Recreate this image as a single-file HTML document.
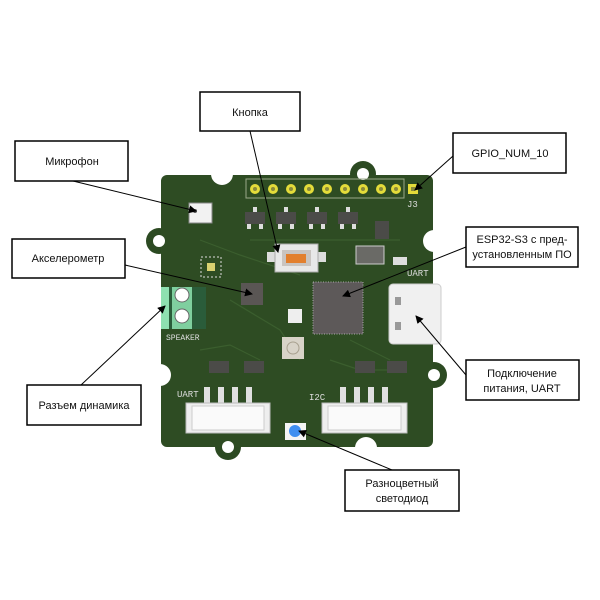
<!DOCTYPE html>
<html><head><meta charset="utf-8"><style>
html,body{margin:0;padding:0;background:#fff;}
svg{display:block}
.l{font-family:"Liberation Sans","DejaVu Sans",sans-serif;font-size:11px;fill:#111}
.s{font-family:"Liberation Mono",monospace;font-size:9px;fill:#ddd}
</style></head><body>
<svg width="600" height="600" viewBox="0 0 600 600" xmlns="http://www.w3.org/2000/svg">
<defs><marker id="a" markerWidth="8" markerHeight="8" refX="7" refY="4" orient="auto" markerUnits="userSpaceOnUse"><path d="M0,0 L8,4 L0,8 z" fill="#000"/></marker></defs>
<!-- bumps -->
<g fill="#2c4a22">
<circle cx="363" cy="174" r="13"/><circle cx="159" cy="241" r="13"/><circle cx="434" cy="375" r="13"/><circle cx="228" cy="447" r="13"/>
</g>
<rect x="161" y="175" width="272" height="272" rx="6" fill="#2e4c23"/>
<!-- holes -->
<g fill="#fff">
<circle cx="363" cy="174" r="6"/><circle cx="159" cy="241" r="6"/><circle cx="434" cy="375" r="6"/><circle cx="228" cy="447" r="6"/>
<circle cx="222" cy="174" r="11"/><circle cx="160" cy="375" r="11"/><circle cx="434" cy="241" r="11"/><circle cx="366" cy="448" r="11"/>
</g>
<!-- traces hint -->
<g stroke="#3b5e2e" stroke-width="1.2" fill="none">
<path d="M200 240 L240 255 L300 275 M230 300 L280 330 L300 360 M350 340 L390 360 M200 350 L230 345 L260 360 M330 360 L360 370 L400 370 M250 240 L400 240"/>
</g>
<!-- header -->
<rect x="246" y="179" width="158" height="19" fill="none" stroke="#9aa88a" stroke-width="1"/>
<g fill="#e4dc3a">
<circle cx="255" cy="189" r="5"/><circle cx="273" cy="189" r="5"/><circle cx="291" cy="189" r="5"/><circle cx="309" cy="189" r="5"/><circle cx="327" cy="189" r="5"/><circle cx="345" cy="189" r="5"/><circle cx="363" cy="189" r="5"/><circle cx="381" cy="189" r="5"/><circle cx="396" cy="189" r="5"/>
<rect x="408" y="184" width="10" height="10"/>
</g>
<g fill="#8a8a3a"><circle cx="255" cy="189" r="2"/><circle cx="273" cy="189" r="2"/><circle cx="291" cy="189" r="2"/><circle cx="309" cy="189" r="2"/><circle cx="327" cy="189" r="2"/><circle cx="345" cy="189" r="2"/><circle cx="363" cy="189" r="2"/><circle cx="381" cy="189" r="2"/><circle cx="396" cy="189" r="2"/><rect x="411" y="187" width="4" height="4"/></g>
<text x="407" y="207" class="s">J3</text>
<!-- mic -->
<rect x="189" y="203" width="23" height="20" fill="#f2f2f2" stroke="#888"/>
<circle cx="195" cy="211" r="2" fill="#555"/>
<!-- transistors -->
<g fill="#4b4b48"><rect x="245" y="212" width="20" height="12"/><rect x="276" y="212" width="20" height="12"/><rect x="307" y="212" width="20" height="12"/><rect x="338" y="212" width="20" height="12"/>
<rect x="209" y="361" width="20" height="12"/><rect x="244" y="361" width="20" height="12"/><rect x="355" y="361" width="20" height="12"/><rect x="387" y="361" width="20" height="12"/>
<rect x="375" y="221" width="14" height="18"/></g>
<g fill="#ddd"><rect x="253" y="207" width="4" height="5"/><rect x="284" y="207" width="4" height="5"/><rect x="315" y="207" width="4" height="5"/><rect x="346" y="207" width="4" height="5"/>
<rect x="247" y="224" width="4" height="5"/><rect x="259" y="224" width="4" height="5"/><rect x="278" y="224" width="4" height="5"/><rect x="290" y="224" width="4" height="5"/><rect x="309" y="224" width="4" height="5"/><rect x="321" y="224" width="4" height="5"/><rect x="340" y="224" width="4" height="5"/><rect x="352" y="224" width="4" height="5"/></g>
<!-- inductor-ish -->
<rect x="356" y="246" width="28" height="18" fill="#6a6a66" stroke="#ccc"/>
<rect x="393" y="257" width="14" height="8" fill="#ddd"/>
<!-- button -->
<rect x="267" y="252" width="8" height="10" fill="#ddd"/><rect x="318" y="252" width="8" height="10" fill="#ddd"/>
<rect x="275" y="244" width="43" height="28" fill="#e8e8e8" stroke="#aaa"/>
<rect x="282" y="250" width="29" height="16" fill="#c9c4c0"/>
<rect x="286" y="254" width="20" height="9" fill="#e27f2d"/>
<!-- qfn -->
<rect x="201" y="257" width="20" height="20" fill="#2e4c23" stroke="#ddd" stroke-dasharray="2 2"/>
<rect x="207" y="263" width="8" height="8" fill="#d8d070"/>
<!-- accel -->
<rect x="241" y="283" width="22" height="22" fill="#5a5654"/>
<!-- esp -->
<rect x="313" y="282" width="50" height="52" fill="#5d5959" stroke="#aaa" stroke-dasharray="1 1.5"/>
<rect x="288" y="309" width="14" height="14" fill="#eee"/>
<!-- antenna -->
<rect x="282" y="337" width="22" height="22" fill="#d8d3c8"/><circle cx="293" cy="348" r="6" fill="none" stroke="#a8a08f"/>
<!-- usb -->
<rect x="389" y="284" width="52" height="60" rx="4" fill="#f0f0f0" stroke="#ccc"/>
<rect x="395" y="297" width="6" height="8" fill="#999"/><rect x="395" y="322" width="6" height="8" fill="#999"/>
<text x="407" y="276" class="s">UART</text>
<!-- terminal -->
<rect x="161" y="287" width="45" height="42" fill="#2a5c3a"/>
<rect x="161" y="287" width="8" height="42" fill="#8ee0b0"/><rect x="172" y="287" width="20" height="42" fill="#7fcf9f"/>
<circle cx="182" cy="295" r="7" fill="#fff" stroke="#666"/><circle cx="182" cy="316" r="7" fill="#fff" stroke="#666"/>
<text x="166" y="340" class="s" style="font-size:8px">SPEAKER</text>
<!-- bottom connectors -->
<text x="177" y="397" class="s">UART</text><text x="309" y="400" class="s">I2C</text>
<g fill="#e0e0e0"><rect x="204" y="387" width="6" height="16"/><rect x="218" y="387" width="6" height="16"/><rect x="232" y="387" width="6" height="16"/><rect x="246" y="387" width="6" height="16"/>
<rect x="340" y="387" width="6" height="16"/><rect x="354" y="387" width="6" height="16"/><rect x="368" y="387" width="6" height="16"/><rect x="382" y="387" width="6" height="16"/></g>
<rect x="186" y="403" width="84" height="30" fill="#eee" stroke="#bbb"/>
<rect x="192" y="406" width="72" height="24" fill="#fafafa" stroke="#ccc"/>
<rect x="322" y="403" width="85" height="30" fill="#eee" stroke="#bbb"/>
<rect x="328" y="406" width="73" height="24" fill="#fafafa" stroke="#ccc"/>
<!-- led -->
<rect x="285" y="423" width="21" height="17" fill="#f4f4f4"/>
<circle cx="295" cy="431" r="6" fill="#3e8ef0"/>
<!-- labels -->
<g fill="#fff" stroke="#000" stroke-width="1.5">
<rect x="200" y="92" width="100" height="39"/>
<rect x="15" y="141" width="113" height="40"/>
<rect x="12" y="239" width="113" height="39"/>
<rect x="453" y="133" width="113" height="40"/>
<rect x="466" y="227" width="112" height="40"/>
<rect x="466" y="360" width="113" height="40"/>
<rect x="27" y="385" width="114" height="40"/>
<rect x="345" y="470" width="114" height="41"/>
</g>
<g class="l" text-anchor="middle">
<text x="250" y="116">Кнопка</text>
<text x="72" y="165">Микрофон</text>
<text x="68" y="262">Акселерометр</text>
<text x="510" y="157">GPIO_NUM_10</text>
<text x="522" y="243">ESP32-S3 с пред-</text><text x="522" y="258">установленным ПО</text>
<text x="522" y="377">Подключение</text><text x="522" y="392">питания, UART</text>
<text x="84" y="409">Разъем динамика</text>
<text x="402" y="487">Разноцветный</text><text x="402" y="502">светодиод</text>
</g>
<g stroke="#000" stroke-width="1" marker-end="url(#a)">
<line x1="73" y1="181" x2="196" y2="211"/>
<line x1="250" y1="131" x2="278" y2="252"/>
<line x1="125" y1="265" x2="252" y2="294"/>
<line x1="81" y1="385" x2="165" y2="306"/>
<line x1="453" y1="156" x2="415" y2="190"/>
<line x1="466" y1="247" x2="343" y2="296"/>
<line x1="466" y1="375" x2="416" y2="316"/>
<line x1="392" y1="470" x2="299" y2="431"/>
</g>
</svg>
</body></html>
